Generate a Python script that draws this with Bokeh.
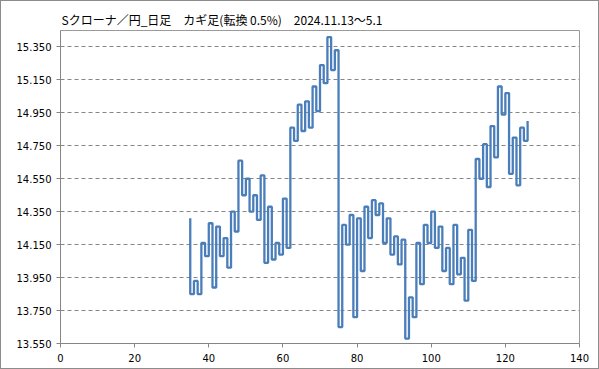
from bokeh.plotting import figure
from bokeh.models import Range1d, FixedTicker, NumeralTickFormatter
from bokeh.embed import file_html
from bokeh.resources import INLINE

title_text = "Sクローナ／円_日足　カギ足(転換 0.5%)　2024.11.13～5.1"
start_x = 35
start_value = 14.31
kagi_values = [
    13.85, 13.93, 13.85, 14.16, 14.08, 14.28, 13.89, 14.26, 14.08, 14.19,
    14.01, 14.35, 14.23, 14.66, 14.45, 14.55, 14.35, 14.45, 14.30, 14.57,
    14.04, 14.38, 14.06, 14.16, 14.09, 14.43, 14.13, 14.86, 14.78, 15.00,
    14.84, 15.02, 14.86, 15.11, 14.96, 15.24, 15.13, 15.41, 15.21, 15.33,
    13.65, 14.27, 14.15, 14.33, 13.71, 14.31, 13.99, 14.38, 14.19, 14.42,
    14.33, 14.40, 14.16, 14.31, 14.09, 14.20, 14.03, 14.18, 13.58, 13.83,
    13.71, 14.16, 13.91, 14.27, 14.16, 14.35, 14.13, 14.26, 13.99, 14.13,
    13.91, 14.27, 13.97, 14.07, 13.81, 14.24, 13.93, 14.67, 14.55, 14.76,
    14.50, 14.87, 14.68, 15.11, 14.94, 15.07, 14.58, 14.80, 14.51, 14.86,
    14.78, 14.90,
]
y_ticks = [13.55, 13.75, 13.95, 14.15, 14.35, 14.55, 14.75, 14.95, 15.15, 15.35]
x_ticks = [0, 20, 40, 60, 80, 100, 120, 140]

# build kagi path: vertical at each x, horizontal to next x
xs, ys = [], []
prev = start_value
for i, v in enumerate(kagi_values):
    x = start_x + i
    xs += [x, x]
    ys += [prev, v]
    prev = v

p = figure(width=599, height=369, output_backend="svg", toolbar_location=None,
           x_range=Range1d(0, 140), y_range=Range1d(13.55, 15.45),
           min_border_left=59, min_border_right=21, min_border_top=29, min_border_bottom=27)
p.styles = {"border": "1px solid #8c8c8c", "box-sizing": "border-box"}

p.title.text = title_text
p.title.text_font = "Noto Sans CJK JP"
p.title.text_font_size = "12px"
p.title.text_font_style = "normal"
p.title.text_color = "#000000"
p.title.align = "left"
p.title.offset = 1
p.title.standoff = 5

p.line(xs, ys, line_color="#4a7ebb", line_width=2.3)

p.outline_line_color = "#9a9a9a"
p.outline_line_width = 1

p.xgrid.visible = False
p.ygrid.grid_line_color = "#868686"
p.ygrid.grid_line_dash = "4 3"
p.ygrid.grid_line_width = 1

for ax in (p.xaxis[0], p.yaxis[0]):
    ax.axis_line_color = "#868686"
    ax.major_tick_line_color = "#868686"
    ax.major_tick_out = 4
    ax.major_tick_in = 0
    ax.minor_tick_line_color = None
    ax.major_label_text_font = "DejaVu Sans"
    ax.major_label_text_font_size = "10px"
    ax.major_label_text_color = "#000000"

p.yaxis.ticker = FixedTicker(ticks=y_ticks)
p.yaxis.formatter = NumeralTickFormatter(format="0.000")
p.yaxis.major_label_standoff = 5
p.xaxis.ticker = FixedTicker(ticks=x_ticks)
p.xaxis.major_label_standoff = 6

open("out.html", "w").write(file_html(p, INLINE))
